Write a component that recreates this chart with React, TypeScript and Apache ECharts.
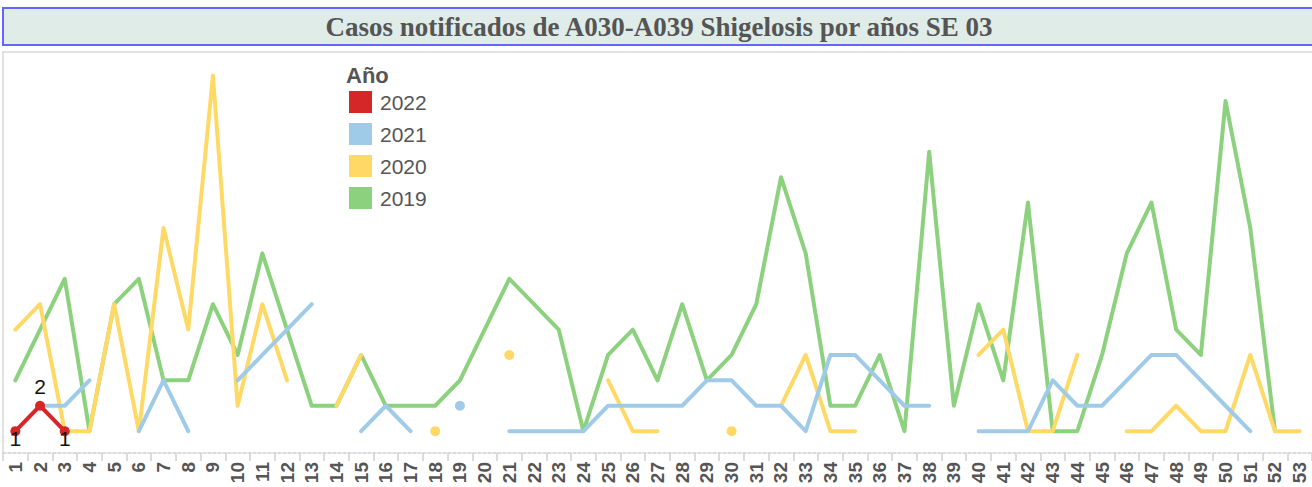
import React, { useEffect, useRef } from "react";
import * as echarts from "echarts";

const weeks = [
  "1","2","3","4","5","6","7","8","9","10","11","12","13","14","15","16","17","18","19","20",
  "21","22","23","24","25","26","27","28","29","30","31","32","33","34","35","36","37","38","39","40",
  "41","42","43","44","45","46","47","48","49","50","51","52","53",
];

const years = ["2022", "2021", "2020", "2019"];

const y2019 = [
  3, 5, 7, 1, 6, 7, 3, 3, 6, 4, 8, 5, 2, 2, 4, 2, 2, 2, 3, 5,
  7, 6, 5, 1, 4, 5, 3, 6, 3, 4, 6, 11, 8, 2, 2, 4, 1, 12, 2, 6,
  3, 10, 1, 1, 4, 8, 10, 5, 4, 14, 9, 1, null,
];

const y2020 = [
  5, 6, 1, 1, 6, 1, 9, 5, 15, 2, 6, 3, null, 2, 4, null, null, 1, null, null,
  4, null, null, null, 3, 1, 1, null, null, 1, null, 2, 4, 1, 1, null, null, null, null, 4,
  5, 1, 1, 4, null, 1, 1, 2, 1, 1, 4, 1, 1,
];

const y2021 = [
  null, 2, 2, 3, null, 1, 3, 1, null, 3, 4, 5, 6, null, 1, 2, 1, null, 2, null,
  1, 1, 1, 1, 2, 2, 2, 2, 3, 3, 2, 2, 1, 4, 4, 3, 2, 2, null, 1,
  1, 1, 3, 2, 2, 3, 4, 4, 3, 2, 1, null, null,
];

const y2022 = [
  1, 2, 1, null, null, null, null, null, null, null, null, null, null, null, null, null, null, null, null, null,
  null, null, null, null, null, null, null, null, null, null, null, null, null, null, null, null, null, null, null, null,
  null, null, null, null, null, null, null, null, null, null, null, null, null,
];

const colors: Record<string, string> = {
  "2022": "#d62728",
  "2021": "#a0cbe8",
  "2020": "#ffd966",
  "2019": "#8cd17d",
};

function withIsolatedDots(arr: (number | null)[]) {
  return arr.map((v, i) => {
    if (v == null) return null;
    const prev = i > 0 ? arr[i - 1] : null;
    const next = i < arr.length - 1 ? arr[i + 1] : null;
    const isolated = prev == null && next == null;
    return { value: v, symbol: isolated ? "circle" : "none" };
  });
}

function lineSeries(name: string, arr: (number | null)[]) {
  return {
    name,
    type: "line",
    data: withIsolatedDots(arr),
    symbol: "circle",
    symbolSize: 10,
    showSymbol: true,
    connectNulls: false,
    color: colors[name],
    lineStyle: { width: 4, color: colors[name], cap: "round", join: "round" },
    itemStyle: { color: colors[name] },
    emphasis: { disabled: true },
  };
}

export default function App() {
  const ref = useRef<HTMLDivElement>(null);
  useEffect(() => {
    const chart = echarts.init(ref.current!, null, { renderer: "svg" });
    const redData = y2022.map((v, i) => {
      if (v == null) return null;
      const up = i === 1;
      return {
        value: v,
        label: {
          show: true,
          position: up ? "top" : "bottom",
          distance: up ? 4 : -8,
        },
      };
    });
    const option: any = {
      animation: false,
      grid: { left: 3, right: -2, top: 52, bottom: 34 },
      legend: {
        orient: "vertical",
        left: 344,
        top: 86,
        itemWidth: 23,
        itemHeight: 22,
        itemGap: 10,
        icon: "rect",
        selectedMode: false,
        data: years,
        textStyle: {
          color: "#555",
          fontSize: 21,
          padding: [0, 0, 0, 3],
          fontFamily: "Liberation Sans, Arial, sans-serif",
        },
      },
      xAxis: {
        type: "category",
        data: weeks,
        boundaryGap: true,
        axisLine: { onZero: false, lineStyle: { color: "#cfcfcf", width: 1.5, type: [3, 2] } },
        axisTick: { show: true, length: 8, lineStyle: { color: "#d0d0d0", width: 1.5 } },
        axisLabel: {
          rotate: 90,
          interval: 0,
          margin: 9,
          fontSize: 19,
          fontWeight: "bold",
          color: "#555",
          fontFamily: "Liberation Sans, Arial, sans-serif",
        },
        splitLine: { show: false },
      },
      yAxis: {
        type: "value",
        min: 0.14,
        max: 15.93,
        axisLine: { show: true, lineStyle: { color: "#d9d9d9", width: 1.5 } },
        axisTick: { show: false },
        axisLabel: { show: false },
        splitLine: { show: false },
      },
      graphic: [
        {
          type: "rect",
          shape: { x: 3, y: 8, width: 1320, height: 37 },
          style: { fill: "#dfece8", stroke: "#6464ff", lineWidth: 2 },
          silent: true,
        },
        {
          type: "text",
          x: 659,
          y: 27,
          style: {
            text: "Casos notificados de A030-A039 Shigelosis por años SE 03",
            fill: "#555",
            font: 'bold 27px "Liberation Serif", "Times New Roman", serif',
            align: "center",
            verticalAlign: "middle",
          },
          silent: true,
        },
        {
          type: "line",
          shape: { x1: 3, y1: 52, x2: 1312, y2: 52 },
          style: { stroke: "#d9d9d9", lineWidth: 1.5 },
          silent: true,
        },
        {
          type: "text",
          x: 346,
          y: 75,
          style: {
            text: "Año",
            fill: "#555",
            font: 'bold 22px "Liberation Sans", Arial, sans-serif',
            align: "left",
            verticalAlign: "middle",
          },
          silent: true,
        },
      ],
      series: [
        lineSeries("2019", y2019),
        lineSeries("2020", y2020),
        lineSeries("2021", y2021),
        {
          name: "2022",
          type: "line",
          data: redData,
          symbol: "circle",
          symbolSize: 10,
          showSymbol: true,
          color: colors["2022"],
          lineStyle: { width: 4, color: colors["2022"], cap: "round", join: "round" },
          itemStyle: { color: colors["2022"] },
          label: {
            show: true,
            color: "#111",
            fontSize: 21,
            fontFamily: "Liberation Sans, Arial, sans-serif",
          },
          emphasis: { disabled: true },
        },
      ],
    };
    chart.setOption(option);
    return () => chart.dispose();
  }, []);
  return (
    <div
      ref={ref}
      style={{ position: "absolute", left: 0, top: 0, width: 1312, height: 487 }}
    />
  );
}
